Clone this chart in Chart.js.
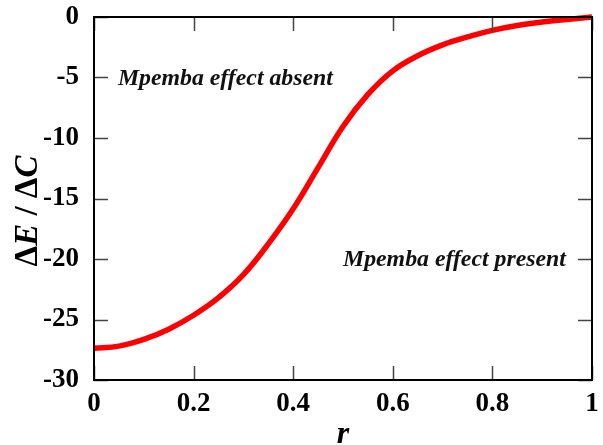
<!DOCTYPE html>
<html>
<head>
<meta charset="utf-8">
<script src="https://cdn.jsdelivr.net/npm/chart.js@4.4.1/dist/chart.umd.min.js"></script>
<style>
  html, body { margin: 0; padding: 0; background: #fff; }
  #wrap { width: 603px; height: 445px; position: relative; }
</style>
</head>
<body>
<div id="wrap"><canvas id="c" width="603" height="445"></canvas></div>
<script>
// ---- data ----
const rValues = [0, 0.05, 0.1, 0.15, 0.2, 0.25, 0.3, 0.35, 0.4, 0.45, 0.5, 0.55, 0.6, 0.65, 0.7, 0.75, 0.8, 0.85, 0.9, 0.95, 1];
const ratioValues = [-27.38, -27.2, -26.65, -25.8, -24.65, -23.2, -21.3, -18.75, -15.85, -12.45, -9.05, -6.4, -4.45, -3.2, -2.3, -1.65, -1.1, -0.7, -0.42, -0.2, 0];
const xTicks = [0, 0.2, 0.4, 0.6, 0.8, 1];
const yTicks = [0, -5, -10, -15, -20, -25, -30];
const xTitle = 'r';
const yTitleParts = [['Δ', false], ['E', true], [' / ', false], ['Δ', false], ['C', true]];
const labelAbsent = 'Mpemba effect absent';
const labelPresent = 'Mpemba effect present';

const SERIF = '"Liberation Serif", "DejaVu Serif", serif';

const framePlugin = {
  id: 'frame',
  afterDatasetsDraw(chart) {
    const {ctx, chartArea: a, scales: {x, y}} = chart;
    ctx.save();
    // inward ticks on all four sides
    ctx.strokeStyle = '#444';
    ctx.lineWidth = 1.5;
    const L = 14;
    ctx.beginPath();
    xTicks.forEach(v => {
      const px = Math.round(x.getPixelForValue(v)) + 0.5;
      ctx.moveTo(px, a.bottom); ctx.lineTo(px, a.bottom - L);
      ctx.moveTo(px, a.top); ctx.lineTo(px, a.top + L);
    });
    yTicks.forEach(v => {
      const py = Math.round(y.getPixelForValue(v)) + 0.5;
      ctx.moveTo(a.left, py); ctx.lineTo(a.left + L, py);
      ctx.moveTo(a.right, py); ctx.lineTo(a.right - L, py);
    });
    ctx.stroke();
    // frame
    ctx.strokeStyle = '#000';
    ctx.lineWidth = 2;
    ctx.strokeRect(a.left, a.top, a.right - a.left, a.bottom - a.top);
    // annotations
    ctx.fillStyle = '#111';
    ctx.font = 'italic bold 23.8px ' + SERIF;
    ctx.textAlign = 'left';
    ctx.textBaseline = 'alphabetic';
    ctx.fillText(labelAbsent, x.getPixelForValue(0.048), y.getPixelForValue(-5.6));
    ctx.fillText(labelPresent, x.getPixelForValue(0.5), y.getPixelForValue(-20.6));

    // x title
    ctx.fillStyle = '#000';
    ctx.font = 'italic bold 32px ' + SERIF;
    ctx.textAlign = 'center';
    ctx.fillText(xTitle, (a.left + a.right) / 2, 443);

    // y title (rotated, mixed upright/italic)
    const fontFor = it => (it ? 'italic ' : '') + 'bold 33px ' + SERIF;
    let total = 0;
    yTitleParts.forEach(([t, it]) => { ctx.font = fontFor(it); total += ctx.measureText(t).width; });
    ctx.translate(36.5, 211);
    ctx.rotate(-Math.PI / 2);
    ctx.textAlign = 'left';
    let cx = -total / 2;
    yTitleParts.forEach(([t, it]) => {
      ctx.font = fontFor(it);
      ctx.fillText(t, cx, 0);
      cx += ctx.measureText(t).width;
    });
    ctx.restore();
  }
};

new Chart(document.getElementById('c'), {
  type: 'line',
  data: {
    datasets: [{
      data: rValues.map((r, i) => ({x: r, y: ratioValues[i]})),
      borderColor: '#ff0000',
      borderWidth: 5.5,
      pointRadius: 0,
      fill: false,
      tension: 0.4
    }]
  },
  options: {
    responsive: false,
    animation: false,
    clip: false,
    layout: { padding: { top: 17, right: 11, left: 0, bottom: 0 } },
    plugins: { legend: { display: false }, tooltip: { enabled: false } },
    scales: {
      x: {
        type: 'linear', min: 0, max: 1,
        afterBuildTicks: s => { s.ticks = xTicks.map(v => ({value: v})); },
        afterFit: s => { s.height = 65; s.paddingLeft = 0; s.paddingRight = 0; },
        grid: { display: false, drawTicks: false },
        border: { display: false },
        ticks: {
          padding: 11,
          color: '#000',
          font: { family: SERIF, size: 27, weight: 'bold', lineHeight: 1 },
          maxRotation: 0,
          callback: v => String(v)
        },
        title: { display: false }
      },
      y: {
        type: 'linear', min: -30, max: 0,
        afterBuildTicks: s => { s.ticks = yTicks.map(v => ({value: v})); },
        afterFit: s => { s.width = 94; s.paddingTop = 0; s.paddingBottom = 0; },
        grid: { display: false, drawTicks: false },
        border: { display: false },
        ticks: {
          padding: 15,
          color: '#000',
          font: { family: SERIF, size: 27, weight: 'bold', lineHeight: 1 },
          callback: v => String(v)
        },
        title: { display: false }
      }
    }
  },
  plugins: [framePlugin]
});
</script>
</body>
</html>
